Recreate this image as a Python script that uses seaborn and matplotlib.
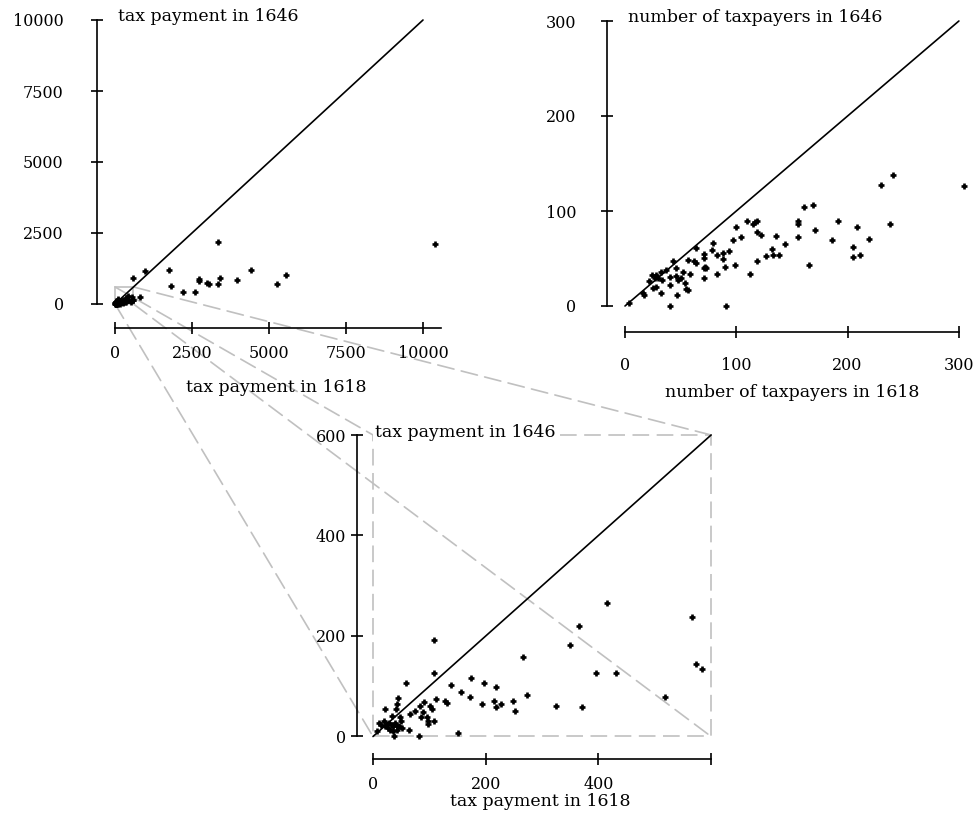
import matplotlib
matplotlib.use("Agg")
import matplotlib.pyplot as plt
import seaborn as sns
import pandas as pd
from matplotlib.patches import ConnectionPatch, Rectangle

# ---------------- data ----------------
# tax payment (1618 vs 1646) - all places
tax_1618 = [108, 108, 58, 138, 174, 197, 219, 266, 157, 172, 274, 249, 252, 214, 227, 219, 194,
            128, 131, 111, 150, 82, 38, 64, 102, 104, 91, 84, 75, 66, 88, 85, 95, 98, 98, 108,
            45, 42, 41, 22, 34, 48,
            11, 20, 24, 29, 33, 36, 39, 42, 47, 49, 51, 30, 36, 27, 21, 15, 7, 42,
            416, 366, 349, 566, 573, 584, 396, 432, 518, 324, 371,
            3344, 985, 1763, 574, 1828, 2218, 2608, 2717, 2740, 2977, 3042, 3409, 3344, 3971,
            4416, 812, 5260, 5542, 10390]
tax_1646 = [192, 127, 106, 102, 116, 106, 99, 158, 89, 79, 82, 71, 51, 71, 65, 58, 65,
            71, 67, 75, 6, 0, 0, 12, 61, 55, 69, 61, 51, 45, 49, 39, 39, 31, 24, 30,
            77, 65, 55, 55, 41, 39,
            27, 30, 25, 27, 23, 20, 26, 21, 20, 30, 16, 13, 10, 16, 20, 23, 10, 12,
            265, 220, 182, 237, 144, 134, 127, 127, 79, 61, 58,
            2183, 1150, 1208, 904, 645, 411, 411, 869, 810, 750, 693, 904, 693, 845,
            1208, 236, 704, 1010, 2112]

# number of taxpayers (1618 vs 1646)
payers_1618 = [4, 16, 17, 25, 28, 32, 22, 24, 27, 30, 33, 28, 32, 37, 43, 46, 40, 40, 40, 47,
               46, 48, 50, 52, 54, 55, 57, 57, 58, 62, 64, 64, 71, 71, 71, 72, 73, 71, 78, 79,
               83, 83, 88, 88, 90, 91, 93, 97, 99, 100, 104, 110, 112, 115, 117, 119, 119, 122,
               119, 127, 132, 133, 138, 136, 144, 161, 169, 155, 155, 171, 155, 191, 186, 208,
               219, 205, 205, 211, 165, 230, 241, 238, 305]
payers_1646 = [3, 14, 12, 19, 20, 14, 26, 33, 30, 30, 27, 33, 36, 38, 47, 40, 22, 31, 0, 12,
               32, 27, 29, 36, 24, 18, 17, 48, 34, 47, 45, 61, 55, 51, 40, 41, 40, 29, 59, 66,
               54, 34, 56, 49, 41, 0, 58, 69, 43, 83, 73, 89, 34, 86, 88, 89, 78, 75,
               47, 53, 60, 54, 54, 74, 65, 104, 106, 89, 86, 80, 73, 89, 69, 83,
               71, 62, 52, 54, 43, 127, 138, 86, 126]

tax_ticks = [0, 2500, 5000, 7500, 10000]
payer_ticks = [0, 100, 200, 300]
zoom_ticks = [0, 200, 400, 600]
zoom_xlabels = ["0", "200", "400", ""]

label_1618_tax = "tax payment in 1618"
label_1646_tax = "tax payment in 1646"
label_1618_num = "number of taxpayers in 1618"
label_1646_num = "number of taxpayers in 1646"

tax_df = pd.DataFrame({"t1618": tax_1618, "t1646": tax_1646})
pay_df = pd.DataFrame({"p1618": payers_1618, "p1646": payers_1646})

# ---------------- style ----------------
sns.set_theme(style="ticks")
plt.rcParams["font.family"] = ["DejaVu Serif"]
plt.rcParams["axes.facecolor"] = "none"
plt.rcParams["text.color"] = "black"
plt.rcParams["axes.labelcolor"] = "black"
plt.rcParams["xtick.color"] = "black"
plt.rcParams["ytick.color"] = "black"
plt.rcParams["xtick.labelcolor"] = "black"
plt.rcParams["ytick.labelcolor"] = "black"

W, H = 977, 826
fig = plt.figure(figsize=(W / 100, H / 100), dpi=100)
fig.patch.set_facecolor("white")


def add_axes_px(ox, sx, oy, sy, xlim, ylim):
    left = ox + xlim[0] * sx
    right = ox + xlim[1] * sx
    bottom = oy - ylim[0] * sy
    top = oy - ylim[1] * sy
    ax = fig.add_axes([left / W, 1 - bottom / H, (right - left) / W, (bottom - top) / H])
    ax.set_xlim(*xlim)
    ax.set_ylim(*ylim)
    return ax


ax1 = add_axes_px(115, 77 / 2500, 304, 71 / 2500, (-584, 10700), (-845, 10150))
ax2 = add_axes_px(625, 111.3 / 100, 306, 95 / 100, (-16.2, 312), (-27.4, 306))
ax3 = add_axes_px(373, 112.7 / 200, 736.5, 100.5 / 200, (-28.4, 612), (-44.8, 612))

TICK = 11.5
LAB = 12.5
GREY = "#c0c0c0"
DASH = (0, (10, 4.5))
MS = 24
MLW = 1.9

for ax in (ax1, ax2, ax3):
    ax.set_facecolor("none")
    for s in ("top", "right"):
        ax.spines[s].set_visible(False)
    for s in ("left", "bottom"):
        ax.spines[s].set_color("black")
        ax.spines[s].set_linewidth(1.2)
    ax.tick_params(direction="inout", length=8, width=1.2, colors="black",
                   labelsize=TICK, labelcolor="black")

# --- panel 1: tax payment, full range
ax1.plot([0, 10000], [0, 10000], color="black", lw=1.2, zorder=2)
sns.scatterplot(data=tax_df, x="t1618", y="t1646", marker="+", color="black",
                s=MS, linewidth=MLW, ax=ax1, zorder=3)
ax1.set_xticks(tax_ticks)
ax1.set_yticks(tax_ticks)
ax1.spines["left"].set_bounds(0, 10000)
ax1.spines["bottom"].set_bounds(0, 10600)
ax1.tick_params(axis="y", pad=20)
ax1.tick_params(axis="x", pad=8)
ax1.add_patch(Rectangle((0, 0), 600, 600, fill=False, ec=GREY, lw=1.2, zorder=1))
ax1.set_xlabel("")
ax1.set_ylabel("")

# --- panel 2: number of taxpayers
ax2.plot([0, 300], [0, 300], color="black", lw=1.2, zorder=2)
sns.scatterplot(data=pay_df, x="p1618", y="p1646", marker="+", color="black",
                s=MS, linewidth=MLW, ax=ax2, zorder=3)
ax2.set_xticks(payer_ticks)
ax2.set_yticks(payer_ticks)
ax2.spines["left"].set_bounds(0, 300)
ax2.spines["bottom"].set_bounds(0, 300)
ax2.tick_params(axis="y", pad=18)
ax2.tick_params(axis="x", pad=14)
ax2.set_xlabel("")
ax2.set_ylabel("")

# --- panel 3: zoom of tax payment
ax3.plot([0, 600], [0, 600], color="black", lw=1.2, zorder=2)
sns.scatterplot(data=tax_df, x="t1618", y="t1646", marker="+", color="black",
                s=MS, linewidth=MLW, ax=ax3, zorder=3)
ax3.set_xticks(zoom_ticks)
ax3.set_xticklabels(zoom_xlabels)
ax3.set_yticks(zoom_ticks)
ax3.spines["left"].set_bounds(0, 600)
ax3.spines["bottom"].set_bounds(0, 600)
ax3.tick_params(axis="y", pad=4)
ax3.tick_params(axis="x", pad=8)
ax3.set_xlim(-28.4, 612)
ax3.set_ylim(-44.8, 612)
ax3.add_patch(Rectangle((0, 0), 600, 600, fill=False, ec=GREY, lw=1.2,
                        ls=DASH, zorder=1, clip_on=False))
ax3.set_xlabel("")
ax3.set_ylabel("")

# connector lines between the small rectangle and the zoom box
for (xa, ya) in [(0, 600), (600, 600), (0, 0), (600, 0)]:
    con = ConnectionPatch(xyA=(xa, ya), coordsA="data", axesA=ax1,
                          xyB=(xa, ya), coordsB="data", axesB=ax3,
                          color=GREY, lw=1.2, ls=DASH, zorder=-1)
    fig.add_artist(con)

# axis titles (y labels at top, x labels below)
bbox = dict(facecolor="white", edgecolor="none", pad=1.5)
ax1.text(97, 10106, label_1646_tax, ha="left", va="center", fontsize=LAB,
         color="black", bbox=bbox)
ax2.text(2.7, 304, label_1646_num, ha="left", va="center", fontsize=LAB,
         color="black", bbox=bbox)
ax3.text(3.5, 604, label_1646_tax, ha="left", va="center", fontsize=LAB,
         color="black", bbox=bbox, zorder=5)


def ftext(px, py, s):
    fig.text(px / W, 1 - py / H, s, ha="center", va="center", fontsize=LAB, color="black")


ftext(276, 387, label_1618_tax)
ftext(792, 392, label_1618_num)
ftext(540, 802, label_1618_tax)

fig.savefig("out.png", dpi=100, facecolor="white")
